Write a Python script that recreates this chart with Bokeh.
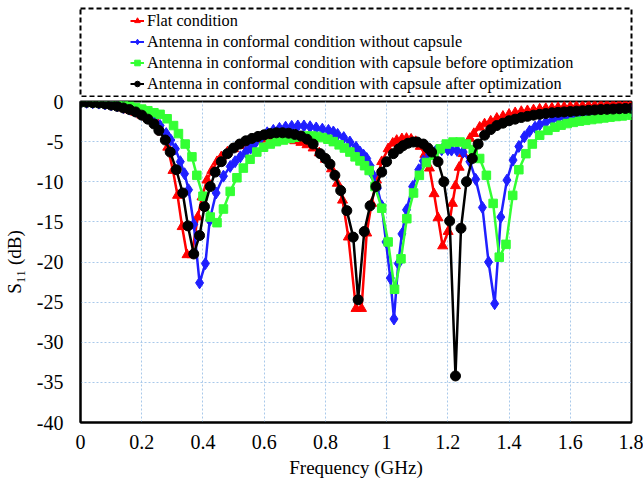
from bokeh.plotting import figure
from bokeh.models import Legend, LegendItem, Range1d, FixedTicker
from bokeh.layouts import column
from bokeh.embed import file_html
from bokeh.resources import INLINE

# ---------------- data ----------------
flat_f = [0.00, 0.02, 0.04, 0.06, 0.08, 0.10, 0.12, 0.14, 0.16, 0.18, 0.20, 0.22, 0.235, 0.25,
          0.266, 0.285, 0.302, 0.317, 0.332, 0.348, 0.364, 0.383, 0.397, 0.413, 0.429, 0.446,
          0.46, 0.48, 0.50, 0.52, 0.54, 0.56, 0.58, 0.60, 0.62, 0.64, 0.66, 0.68, 0.70, 0.72,
          0.74, 0.76, 0.78, 0.80, 0.82, 0.839, 0.856, 0.875, 0.90, 0.918, 0.935, 0.951, 0.967,
          0.984, 1.005, 1.02, 1.033, 1.05, 1.065, 1.08, 1.095, 1.11, 1.125, 1.14, 1.155, 1.168,
          1.183, 1.201, 1.215, 1.225, 1.237, 1.25, 1.262, 1.272, 1.285, 1.304, 1.32, 1.34, 1.36,
          1.38, 1.40, 1.42, 1.44, 1.46, 1.48, 1.50, 1.52, 1.54, 1.56, 1.58, 1.60, 1.62, 1.64,
          1.66, 1.68, 1.70, 1.72, 1.74, 1.76, 1.78, 1.80]
flat_s = [-0.1, -0.1, -0.15, -0.2, -0.3, -0.45, -0.6, -0.8, -1.05, -1.35, -1.7, -2.0, -2.3, -2.6,
          -3.8, -5.7, -8.6, -11.7, -15.6, -19.1, -19.1, -14.4, -11.9, -9.8, -8.6, -7.5,
          -6.9, -6.3, -5.9, -5.5, -5.2, -5.0, -4.8, -4.7, -4.6, -4.6, -4.6, -4.7, -4.9, -5.1,
          -5.4, -5.8, -6.4, -7.2, -8.4, -10.2, -12.3, -16.9, -25.8, -25.8, -16.4, -12.7, -9.8,
          -7.5, -5.9, -5.2, -4.85, -4.65, -4.6, -4.7, -5.0, -5.6, -6.6, -8.3, -11.5, -14.5,
          -18.0, -16.2, -12.7, -10.5, -8.2, -6.5, -5.4, -4.6, -4.0, -3.2, -2.8, -2.45, -2.1,
          -1.85, -1.6, -1.4, -1.25, -1.15, -1.05, -0.95, -0.88, -0.82, -0.76, -0.7, -0.65, -0.6, -0.57,
          -0.53, -0.5, -0.47, -0.44, -0.41, -0.38, -0.35, -0.32]

nocap_f = [0.00, 0.02, 0.04, 0.06, 0.08, 0.10, 0.12, 0.14, 0.16, 0.18, 0.20, 0.22, 0.24, 0.26,
           0.28, 0.295, 0.31, 0.326, 0.34, 0.353, 0.37, 0.389, 0.408, 0.422, 0.443, 0.467, 0.489,
           0.505, 0.522, 0.54, 0.556, 0.57, 0.59, 0.61, 0.63, 0.65, 0.67, 0.69, 0.71, 0.73, 0.75,
           0.77, 0.79, 0.81, 0.826, 0.84, 0.86, 0.88, 0.90, 0.913, 0.925, 0.935, 0.946, 0.956,
           0.97, 0.984, 0.998, 1.012, 1.024, 1.038, 1.05, 1.065, 1.085, 1.105, 1.12, 1.14, 1.16,
           1.18, 1.20, 1.212, 1.23, 1.25, 1.272, 1.291, 1.313, 1.333, 1.353, 1.373, 1.393, 1.413,
           1.432, 1.45, 1.467, 1.485, 1.50, 1.52, 1.54, 1.56, 1.58, 1.60, 1.62, 1.64, 1.66, 1.68,
           1.70, 1.72, 1.74, 1.76, 1.78, 1.80]
nocap_s = [-0.1, -0.1, -0.15, -0.2, -0.3, -0.4, -0.55, -0.75, -0.95, -1.2, -1.5, -1.9, -2.4, -3.0,
           -4.0, -4.8, -5.9, -7.5, -9.0, -11.0, -15.3, -22.6, -20.2, -14.8, -11.4, -9.3, -8.1,
           -7.5, -6.9, -6.3, -5.8, -5.2, -4.5, -3.9, -3.6, -3.35, -3.2, -3.1, -3.05, -3.05, -3.15,
           -3.3, -3.45, -3.6, -3.8, -4.1, -4.5, -5.05, -5.7, -6.3, -6.7, -7.1, -8.0, -9.2,
           -10.8, -13.0, -17.5, -22.0, -27.1, -20.2, -16.5, -13.5, -10.6, -8.5, -7.4, -6.6, -6.2,
           -6.0, -6.0, -6.05, -6.1, -6.3, -7.5, -9.7, -13.2, -20.0, -25.2, -14.4, -9.8, -7.3,
           -5.6, -4.4, -3.7, -3.2, -2.9, -2.6, -2.35, -2.1, -1.95, -1.85, -1.75, -1.65, -1.55, -1.48,
           -1.42, -1.36, -1.3, -1.25, -1.2, -1.15]

before_f = [0.00, 0.02, 0.04, 0.06, 0.08, 0.10, 0.12, 0.14, 0.16, 0.18, 0.20, 0.22, 0.24, 0.26,
            0.283, 0.304, 0.32, 0.342, 0.364, 0.38, 0.40, 0.424, 0.446, 0.467, 0.489, 0.511, 0.532,
            0.554, 0.576, 0.598, 0.62, 0.64, 0.663, 0.685, 0.70, 0.717, 0.735, 0.755, 0.772, 0.79,
            0.808, 0.826, 0.845, 0.862, 0.88, 0.897, 0.913, 0.928, 0.943, 0.962, 0.984, 1.005,
            1.026, 1.047, 1.066, 1.088, 1.107, 1.13, 1.155, 1.175, 1.195, 1.217, 1.24, 1.261, 1.283,
            1.304, 1.326, 1.348, 1.368, 1.39, 1.412, 1.432, 1.455, 1.476, 1.50, 1.527, 1.55, 1.57,
            1.59, 1.61, 1.63, 1.65, 1.67, 1.69, 1.71, 1.73, 1.75, 1.77, 1.80]
before_s = [-0.05, -0.05, -0.1, -0.12, -0.18, -0.25, -0.33, -0.45, -0.58, -0.75, -0.95, -1.15, -1.4, -1.6,
            -2.15, -3.0, -4.0, -5.3, -6.9, -9.2, -11.8, -14.4, -15.1, -13.4, -11.2, -9.5, -8.3,
            -7.2, -6.3, -5.7, -5.3, -5.0, -4.8, -4.6, -4.45, -4.35, -4.3, -4.3, -4.35, -4.5,
            -4.7, -5.0, -5.4, -5.8, -6.3, -6.9, -7.4, -8.0, -8.6, -10.6, -13.3, -17.5,
            -23.4, -19.6, -14.6, -11.4, -9.2, -7.6, -6.7, -5.9, -5.3, -5.05, -5.05, -5.3, -6.0,
            -7.1, -9.2, -12.7, -19.4, -17.8, -11.7, -8.5, -6.5, -5.3, -4.2, -3.6, -3.2, -2.95,
            -2.75, -2.6, -2.45, -2.35, -2.25, -2.15, -2.05, -1.95, -1.87, -1.8, -1.7]

after_f = [0.00, 0.02, 0.04, 0.06, 0.08, 0.10, 0.12, 0.14, 0.16, 0.18, 0.20, 0.22, 0.24, 0.256,
           0.277, 0.293, 0.313, 0.334, 0.351, 0.370, 0.389, 0.405, 0.424, 0.44, 0.46, 0.48, 0.50,
           0.52, 0.54, 0.56, 0.58, 0.60, 0.62, 0.64, 0.66, 0.68, 0.70, 0.72, 0.74, 0.76, 0.783,
           0.80, 0.815, 0.831, 0.85, 0.870, 0.891, 0.907, 0.927, 0.946, 0.965, 0.984, 1.00, 1.022,
           1.04, 1.054, 1.07, 1.087, 1.10, 1.12, 1.135, 1.147, 1.168, 1.187, 1.206, 1.225, 1.243,
           1.261, 1.28, 1.299, 1.32, 1.34, 1.36, 1.38, 1.40, 1.42, 1.44, 1.46, 1.48, 1.50, 1.52,
           1.54, 1.56, 1.58, 1.60, 1.62, 1.64, 1.66, 1.68, 1.70, 1.72, 1.74, 1.76, 1.78, 1.80]
after_s = [-0.1, -0.1, -0.15, -0.2, -0.3, -0.45, -0.6, -0.8, -1.0, -1.3, -1.7, -2.2, -2.8, -3.6,
           -4.8, -6.3, -8.5, -11.4, -15.5, -19.0, -16.7, -13.1, -10.6, -8.8, -7.5, -6.5, -5.8,
           -5.3, -4.9, -4.6, -4.35, -4.15, -4.0, -3.9, -3.9, -3.95, -4.1, -4.3, -4.7, -5.3, -6.5,
           -7.1, -7.8, -9.2, -11.1, -13.6, -16.9, -24.7, -16.2, -13.0, -10.6, -8.8, -7.5, -6.5,
           -5.9, -5.5, -5.2, -5.05, -5.05, -5.3, -5.8, -6.3, -7.5, -10.0, -14.9, -34.2, -15.8,
           -10.0, -7.1, -5.3, -4.2, -3.5, -3.0, -2.7, -2.4, -2.2, -2.0, -1.85, -1.7, -1.6, -1.5,
           -1.4, -1.35, -1.3, -1.25, -1.2, -1.15, -1.1, -1.05, -1.0, -0.97, -0.94, -0.9, -0.87, -0.85]

series_names = ["Flat condition",
                "Antenna in conformal condition without capsule",
                "Antenna in conformal condition with capsule before optimization",
                "Antenna in conformal condition with capsule after optimization"]

x_ticks = [0, 0.2, 0.4, 0.6, 0.8, 1.0, 1.2, 1.4, 1.6, 1.8]
x_tick_labels = ["0", "0.2", "0.4", "0.6", "0.8", "1", "1.2", "1.4", "1.6", "1.8"]
y_ticks = [0, -5, -10, -15, -20, -25, -30, -35, -40]
y_tick_labels = ["0", "-5", "-10", "-15", "-20", "-25", "-30", "-35", "-40"]

# ---------------- styles ----------------
FONT = "Liberation Serif"
styles = [
    dict(color="#ff0000", marker="triangle", size=10),
    dict(color="#1f1fff", marker="diamond", size=12),
    dict(color="#33ff33", marker="square", size=8.5),
    dict(color="#000000", marker="circle", size=10),
]
data = [(flat_f, flat_s), (nocap_f, nocap_s), (before_f, before_s), (after_f, after_s)]

# ---------------- main chart ----------------
p = figure(width=643, height=396, x_range=Range1d(0, 1.8), y_range=Range1d(-40, 0),
           output_backend="svg", toolbar_location=None,
           min_border_left=80, min_border_right=12, min_border_top=13, min_border_bottom=62)
p.margin = (-9, 0, 0, 0)
p.background_fill_color = "white"
p.border_fill_alpha = 0
p.outline_line_color = "black"
p.outline_line_width = 2
p.outline_line_alpha = 1

for (fx, sy), st in zip(data, styles):
    p.line(fx, sy, line_color=st["color"], line_width=2.5)
    p.scatter(fx, sy, marker=st["marker"], size=st["size"], fill_color=st["color"],
              line_color=st["color"])

p.xaxis.ticker = FixedTicker(ticks=x_ticks)
p.yaxis.ticker = FixedTicker(ticks=y_ticks)
p.xaxis.major_label_overrides = {t: l for t, l in zip(x_ticks, x_tick_labels)}
p.yaxis.major_label_overrides = {t: l for t, l in zip(y_ticks, y_tick_labels)}
p.xgrid.ticker = FixedTicker(ticks=x_ticks)
p.ygrid.ticker = FixedTicker(ticks=y_ticks)
p.grid.grid_line_color = "#a9c9ea"
p.grid.grid_line_dash = "2 2"
p.grid.grid_line_width = 1

for ax in (p.xaxis, p.yaxis):
    ax.axis_line_color = "black"
    ax.axis_line_width = 2
    ax.major_tick_line_color = None
    ax.minor_tick_line_color = None
    ax.major_tick_out = 0
    ax.major_tick_in = 0
    ax.major_label_text_font = FONT
    ax.major_label_text_font_size = "20px"
    ax.major_label_text_color = "black"
    ax.axis_label_text_font = FONT
    ax.axis_label_text_font_size = "19px"
    ax.axis_label_text_font_style = "normal"
    ax.axis_label_text_color = "black"

p.xaxis.axis_label = "Frequency (GHz)"
p.yaxis.axis_label = "S\u2081\u2081 (dB)"
p.xaxis.major_label_standoff = 12
p.xaxis.axis_label_standoff = 5
p.yaxis.major_label_standoff = 17
p.yaxis.axis_label_standoff = 9

# ---------------- legend box (dashed) ----------------
pl = figure(width=643, height=97, x_range=Range1d(0, 1), y_range=Range1d(0, 1),
            output_backend="svg", toolbar_location=None,
            x_axis_location=None, y_axis_location=None,
            min_border_left=80, min_border_right=12, min_border_top=8, min_border_bottom=1)
pl.grid.visible = False
pl.outline_line_color = "black"
pl.outline_line_width = 2
pl.outline_line_dash = "5 3"
pl.outline_line_alpha = 1

items = []
for name, st in zip(series_names, styles):
    rl = pl.line([-10, -9], [-10, -9], line_color=st["color"], line_width=2)
    r = pl.scatter([-10], [-10], marker=st["marker"], size=st["size"],
                   fill_color=st["color"], line_color=st["color"])
    items.append(LegendItem(label=name, renderers=[rl, r]))

legend = Legend(items=items, location=(50, 2))
legend.label_text_font = FONT
legend.label_text_font_size = "16.3px"
legend.label_text_color = "black"
legend.glyph_width = 14
legend.glyph_height = 21
legend.label_height = 21
legend.spacing = 0
legend.padding = 0
legend.margin = 0
legend.label_standoff = 3
legend.border_line_color = None
legend.background_fill_alpha = 0
pl.add_layout(legend)

layout = column(pl, p)
open("out.html", "w").write(file_html(layout, INLINE))
